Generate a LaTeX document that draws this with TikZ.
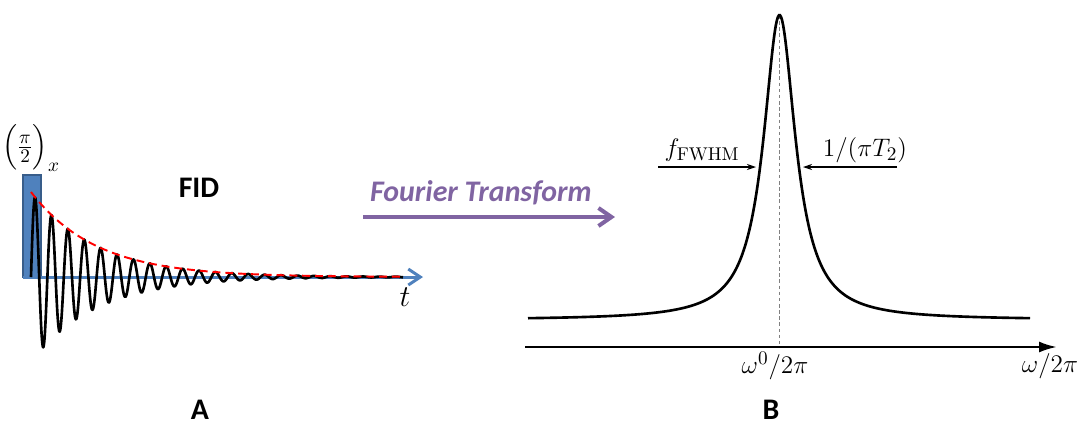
\documentclass[tikz,border=0pt]{standalone}
\usepackage{amsmath}
\usepackage{fontspec}
\newfontfamily\calfont{Carlito}
\usetikzlibrary{arrows.meta, positioning}
\definecolor{mBlue}{HTML}{4F81BD}
\definecolor{mDarkBlue}{HTML}{385D8A}
\definecolor{mPurple}{HTML}{8064A2}
\definecolor{mRed}{HTML}{FF0000}
\definecolor{mGray}{HTML}{808080}

\begin{document}
\begin{tikzpicture}[x=0.02cm, y=-0.02cm,
    mathlbl/.style={font=\fontsize{15}{18}\selectfont, inner sep=0pt},
    boldlbl/.style={font=\calfont\bfseries\fontsize{17}{20}\selectfont, inner sep=0pt},
    ftlbl/.style={font=\calfont\bfseries\itshape\fontsize{17}{20}\selectfont, text=mPurple, inner sep=0pt},
    fwhm/.style={-{Stealth[length=1.8mm,width=1.2mm]}, line width=0.6pt}]
  \useasboundingbox (0,0) rectangle (1089,437);
  % A: pulse and FID
  \draw[fill=mBlue, draw=mDarkBlue, line width=0.8pt] (23,175) rectangle (41,277);
  \node[mathlbl] (pulse) at (31,148) {$\Big(\frac{\pi}{2}\Big)_{x}$};
  \coordinate (t0) at (23,277);
  \coordinate (t1) at (423,277);
  \draw[-{Straight Barb[length=2.4mm,width=3.2mm]}, mBlue, line width=1.7pt] (t0) -- (t1);
  \draw[line width=1.5pt, line join=round]
    plot[domain=31:403, samples=700] (\x, {277-85*exp(-(\x-31)/65)*sin((\x-31)/16.4*360)});
  \draw[mRed, line width=1.1pt, dash pattern=on 4.5pt off 2.8pt]
    plot[domain=31:403, samples=120, smooth] (\x, {277-85*exp(-(\x-31)/65)});
  \node[mathlbl, font=\fontsize{17}{20}\selectfont] (tlbl) at (405,297) {$t$};
  \node[boldlbl] (fid) at (199,188) {FID};
  \node[boldlbl] (lblA) at (200,410) {A};
  % transform arrow
  \node[ftlbl] (ft) at (481,193) {Fourier Transform};
  \coordinate (ft0) at (363,217);
  \coordinate (ft1) at (615,217);
  \draw[-{Straight Barb[length=2.6mm,width=3.6mm]}, mPurple, line width=2.3pt] (ft0) -- (ft1);
  % B: spectrum
  \coordinate (w0) at (525,347);
  \coordinate (w1) at (1057,347);
  \draw[-{Latex[length=3.6mm,width=2.2mm]}, line width=1.4pt] (w0) -- (w1);
  \coordinate (pk) at (779.5,15);
  \coordinate (pkb) at (779.5,347);
  \draw[mGray, line width=0.6pt, dash pattern=on 2pt off 1.5pt] (pk) -- (pkb);
  \draw[line width=1.5pt]
    plot[domain=528:1030, samples=501, smooth] (\x, {320-305/(1+((\x-779.5)/19.5)^2)});
  \coordinate (hl) at (658,167);
  \coordinate (hlc) at (756,167);
  \coordinate (hr) at (897,167);
  \coordinate (hrc) at (803,167);
  \draw[fwhm] (hl) -- (hlc);
  \draw[fwhm] (hr) -- (hrc);
  \node[mathlbl] (fw) at (702,150) {$f_{\mathrm{FWHM}}$};
  \node[mathlbl] (tt) at (865,150) {$1/(\pi T_2)$};
  \node[mathlbl] (w0lbl) at (775,366) {$\omega^0/2\pi$};
  \node[mathlbl] (wlbl) at (1050,366) {$\omega/2\pi$};
  \node[boldlbl] (lblB) at (771,410) {B};
\end{tikzpicture}
\end{document}
